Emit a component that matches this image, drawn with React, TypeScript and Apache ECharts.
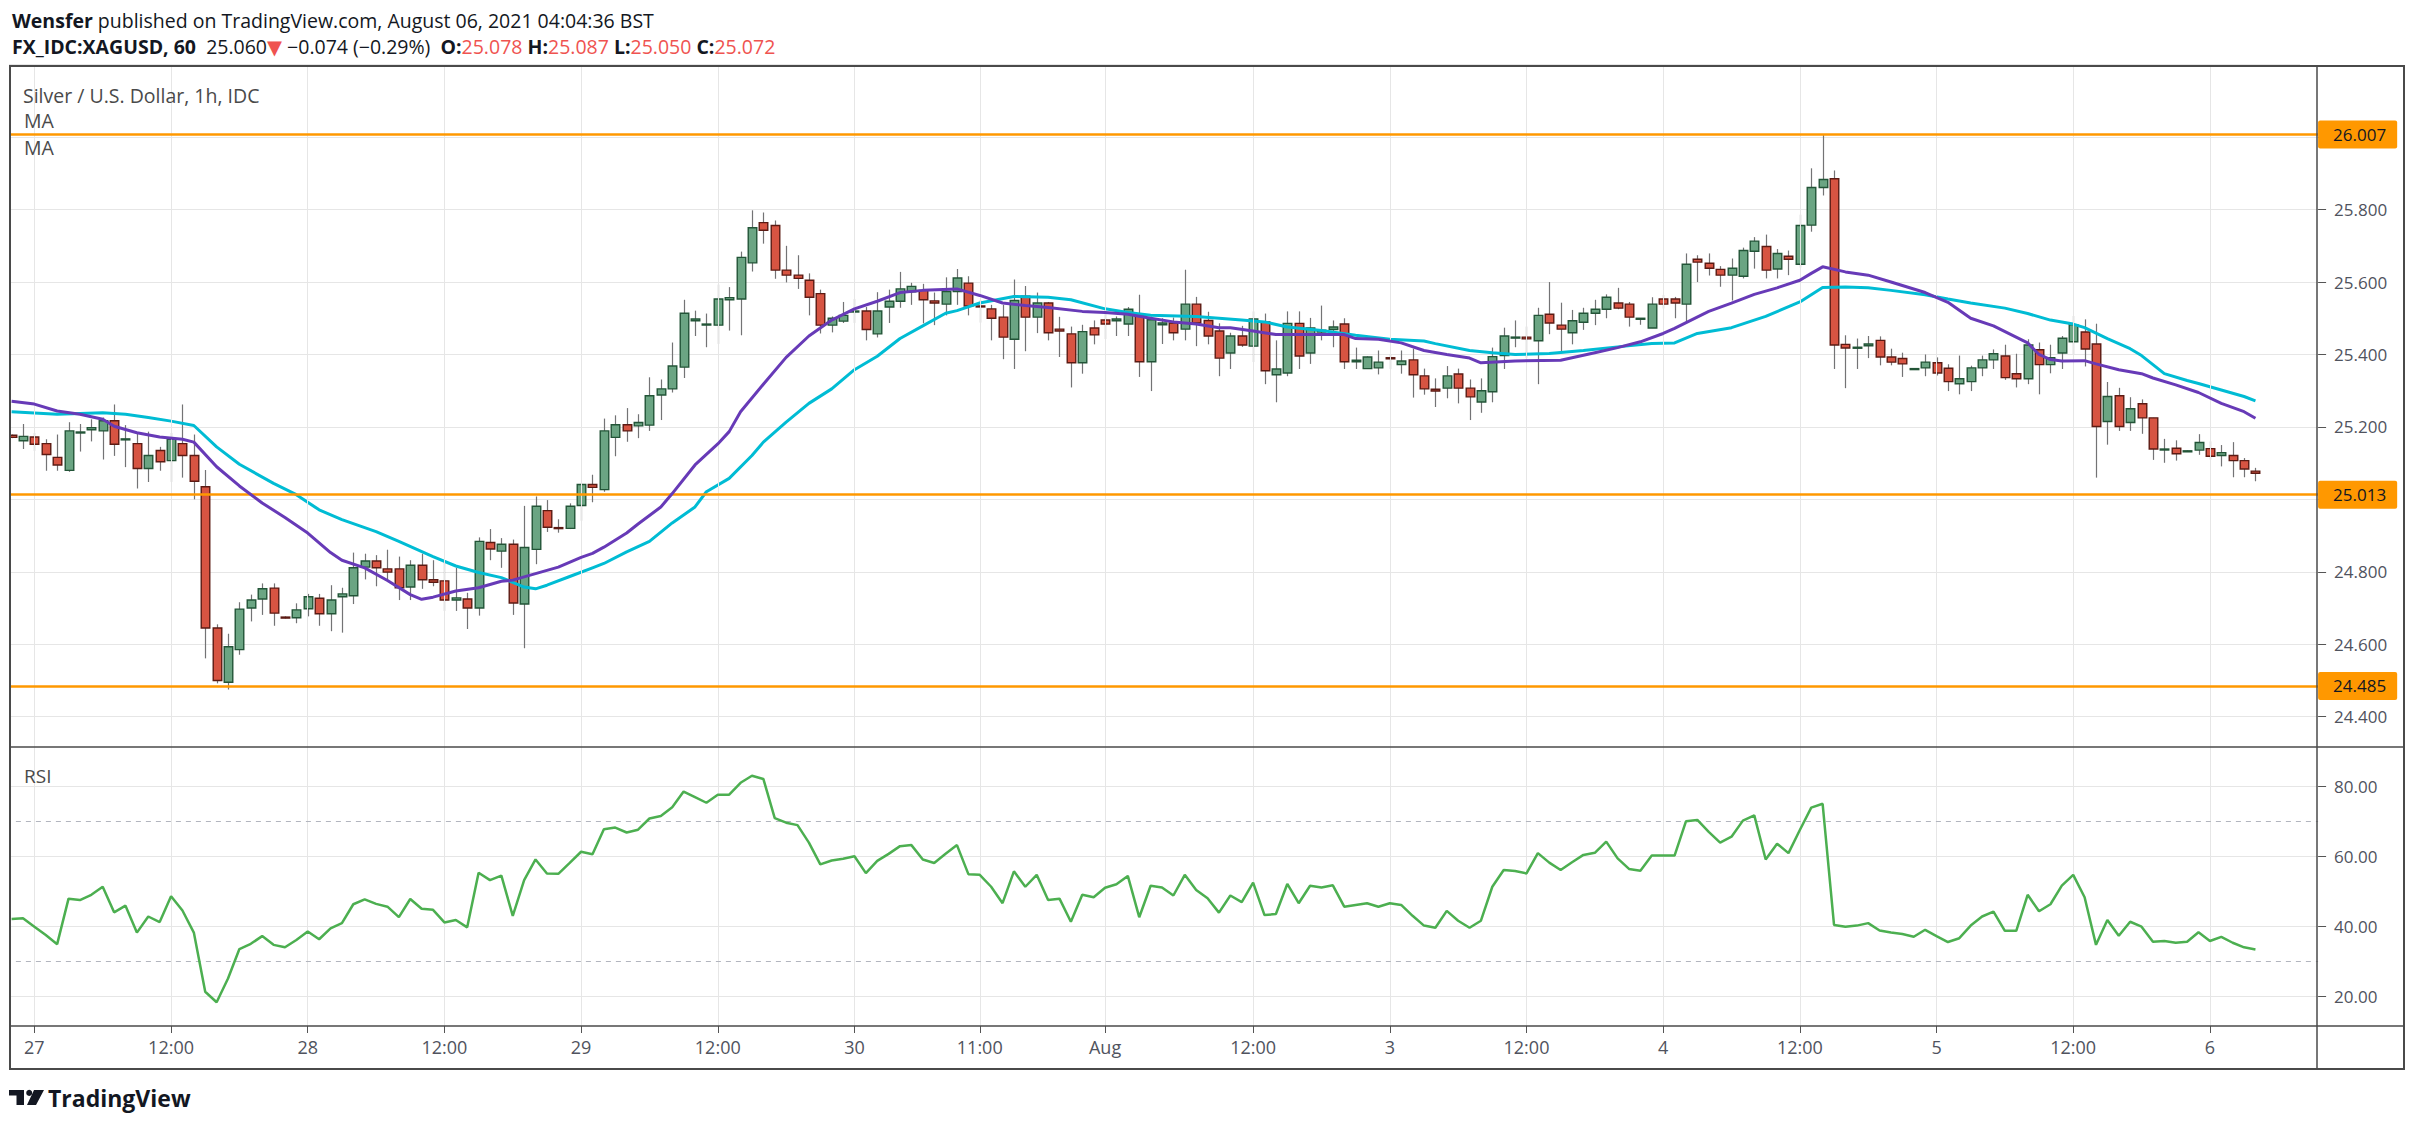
import React, { useEffect, useRef } from 'react';
import * as echarts from 'echarts';

const FONT = "'Open Sans', 'DejaVu Sans', sans-serif";

// x-axis tick labels (candle index where each label sits)
const tickIdx = [2, 14, 26, 38, 50, 62, 74, 85, 96, 109, 121, 133, 145, 157, 169, 181, 193];
const tickLabels = ['27', '12:00', '28', '12:00', '29', '12:00', '30', '11:00', 'Aug', '12:00', '3', '12:00', '4', '12:00', '5', '12:00', '6'];

const openVals = [
  25.177, 25.162, 25.172, 25.154, 25.116, 25.080, 25.184, 25.192, 25.189, 25.217,
  25.165, 25.154, 25.085, 25.135, 25.107, 25.154, 25.121, 25.035, 24.645, 24.495,
  24.585, 24.700, 24.725, 24.755, 24.675, 24.673, 24.698, 24.727, 24.684, 24.731,
  24.734, 24.813, 24.830, 24.808, 24.808, 24.758, 24.818, 24.778, 24.775, 24.722,
  24.725, 24.700, 24.881, 24.857, 24.876, 24.711, 24.862, 24.969, 24.922, 24.920,
  24.983, 25.041, 25.027, 25.171, 25.206, 25.203, 25.205, 25.288, 25.305, 25.365,
  25.493, 25.482, 25.481, 25.551, 25.553, 25.653, 25.764, 25.756, 25.633, 25.619,
  25.605, 25.568, 25.481, 25.492, 25.518, 25.520, 25.457, 25.531, 25.547, 25.573,
  25.577, 25.548, 25.539, 25.574, 25.597, 25.534, 25.526, 25.503, 25.442, 25.561,
  25.503, 25.542, 25.470, 25.457, 25.377, 25.473, 25.495, 25.493, 25.484, 25.511,
  25.380, 25.482, 25.487, 25.470, 25.539, 25.494, 25.465, 25.404, 25.451, 25.423,
  25.490, 25.344, 25.349, 25.486, 25.404, 25.462, 25.469, 25.484, 25.380, 25.361,
  25.363, 25.391, 25.372, 25.385, 25.341, 25.304, 25.307, 25.346, 25.307, 25.269,
  25.297, 25.397, 25.446, 25.448, 25.438, 25.511, 25.481, 25.460, 25.489, 25.514,
  25.525, 25.542, 25.539, 25.499, 25.473, 25.553, 25.553, 25.539, 25.663, 25.652,
  25.635, 25.619, 25.616, 25.685, 25.698, 25.636, 25.671, 25.649, 25.757, 25.861,
  25.885, 25.428, 25.418, 25.424, 25.439, 25.393, 25.389, 25.359, 25.363, 25.377,
  25.362, 25.319, 25.325, 25.363, 25.385, 25.396, 25.347, 25.333, 25.413, 25.372,
  25.404, 25.435, 25.462, 25.429, 25.215, 25.286, 25.212, 25.264, 25.225, 25.137,
  25.141, 25.132, 25.136, 25.140, 25.121, 25.121, 25.107, 25.078,
];
const highVals = [
  25.179, 25.208, 25.184, 25.166, 25.179, 25.213, 25.208, 25.221, 25.226, 25.262,
  25.205, 25.181, 25.187, 25.145, 25.184, 25.262, 25.179, 25.081, 24.655, 24.629,
  24.716, 24.737, 24.768, 24.768, 24.677, 24.713, 24.739, 24.739, 24.763, 24.756,
  24.853, 24.850, 24.846, 24.861, 24.842, 24.832, 24.850, 24.832, 24.832, 24.811,
  24.742, 24.895, 24.918, 24.893, 24.889, 24.982, 25.008, 24.998, 24.945, 24.989,
  25.044, 25.068, 25.223, 25.232, 25.252, 25.235, 25.337, 25.331, 25.433, 25.551,
  25.521, 25.513, 25.593, 25.586, 25.684, 25.798, 25.792, 25.770, 25.700, 25.674,
  25.624, 25.579, 25.505, 25.545, 25.553, 25.531, 25.572, 25.579, 25.628, 25.598,
  25.595, 25.571, 25.613, 25.636, 25.616, 25.551, 25.537, 25.537, 25.607, 25.589,
  25.571, 25.545, 25.504, 25.477, 25.482, 25.494, 25.522, 25.505, 25.531, 25.565,
  25.505, 25.500, 25.502, 25.634, 25.559, 25.518, 25.486, 25.460, 25.479, 25.519,
  25.513, 25.439, 25.519, 25.519, 25.501, 25.535, 25.494, 25.500, 25.419, 25.395,
  25.411, 25.400, 25.411, 25.416, 25.361, 25.334, 25.368, 25.361, 25.331, 25.334,
  25.419, 25.474, 25.494, 25.477, 25.529, 25.600, 25.543, 25.523, 25.529, 25.551,
  25.566, 25.584, 25.545, 25.500, 25.558, 25.565, 25.559, 25.679, 25.674, 25.679,
  25.644, 25.665, 25.695, 25.724, 25.731, 25.691, 25.687, 25.786, 25.914, 26.007,
  25.908, 25.453, 25.444, 25.451, 25.450, 25.416, 25.405, 25.362, 25.400, 25.392,
  25.373, 25.397, 25.369, 25.397, 25.414, 25.427, 25.402, 25.442, 25.433, 25.427,
  25.451, 25.507, 25.497, 25.485, 25.324, 25.308, 25.282, 25.276, 25.225, 25.167,
  25.163, 25.135, 25.180, 25.160, 25.150, 25.158, 25.114, 25.087,
];
const lowVals = [
  25.169, 25.139, 25.134, 25.079, 25.079, 25.076, 25.132, 25.160, 25.110, 25.120,
  25.089, 25.030, 25.048, 25.079, 25.048, 25.060, 25.000, 24.561, 24.492, 24.475,
  24.571, 24.663, 24.681, 24.651, 24.671, 24.658, 24.677, 24.651, 24.636, 24.632,
  24.711, 24.779, 24.760, 24.779, 24.722, 24.722, 24.753, 24.760, 24.692, 24.692,
  24.642, 24.679, 24.832, 24.811, 24.681, 24.589, 24.821, 24.910, 24.908, 24.918,
  24.941, 24.992, 25.021, 25.119, 25.159, 25.169, 25.189, 25.219, 25.295, 25.335,
  25.451, 25.420, 25.429, 25.466, 25.453, 25.629, 25.706, 25.609, 25.599, 25.581,
  25.508, 25.458, 25.461, 25.487, 25.487, 25.439, 25.447, 25.487, 25.529, 25.537,
  25.486, 25.481, 25.508, 25.537, 25.508, 25.488, 25.439, 25.387, 25.360, 25.409,
  25.459, 25.439, 25.393, 25.309, 25.347, 25.428, 25.442, 25.451, 25.451, 25.338,
  25.299, 25.429, 25.439, 25.439, 25.423, 25.428, 25.340, 25.360, 25.421, 25.379,
  25.318, 25.268, 25.340, 25.360, 25.374, 25.439, 25.420, 25.360, 25.360, 25.360,
  25.345, 25.360, 25.347, 25.281, 25.289, 25.255, 25.279, 25.265, 25.219, 25.239,
  25.268, 25.360, 25.420, 25.390, 25.318, 25.456, 25.407, 25.428, 25.468, 25.481,
  25.500, 25.525, 25.477, 25.482, 25.473, 25.527, 25.500, 25.487, 25.600, 25.618,
  25.587, 25.549, 25.610, 25.637, 25.610, 25.610, 25.619, 25.640, 25.739, 25.839,
  25.360, 25.307, 25.360, 25.390, 25.370, 25.370, 25.338, 25.358, 25.340, 25.342,
  25.299, 25.290, 25.299, 25.340, 25.360, 25.330, 25.309, 25.318, 25.290, 25.348,
  25.360, 25.401, 25.367, 25.060, 25.151, 25.189, 25.189, 25.181, 25.109, 25.101,
  25.107, 25.131, 25.123, 25.110, 25.091, 25.061, 25.061, 25.050,
];
const closeVals = [
  25.171, 25.174, 25.152, 25.124, 25.095, 25.189, 25.186, 25.198, 25.217, 25.152,
  25.167, 25.085, 25.121, 25.104, 25.166, 25.121, 25.050, 24.645, 24.500, 24.593,
  24.697, 24.722, 24.753, 24.686, 24.673, 24.695, 24.731, 24.684, 24.722, 24.739,
  24.811, 24.830, 24.811, 24.799, 24.756, 24.818, 24.778, 24.771, 24.722, 24.728,
  24.700, 24.884, 24.863, 24.876, 24.714, 24.867, 24.981, 24.923, 24.920, 24.981,
  25.041, 25.033, 25.189, 25.206, 25.189, 25.212, 25.286, 25.305, 25.368, 25.514,
  25.498, 25.484, 25.553, 25.557, 25.668, 25.750, 25.743, 25.633, 25.619, 25.610,
  25.558, 25.481, 25.500, 25.508, 25.520, 25.469, 25.520, 25.547, 25.581, 25.588,
  25.551, 25.542, 25.574, 25.611, 25.534, 25.532, 25.500, 25.448, 25.549, 25.503,
  25.542, 25.460, 25.465, 25.377, 25.463, 25.454, 25.484, 25.498, 25.525, 25.380,
  25.496, 25.487, 25.460, 25.539, 25.487, 25.451, 25.390, 25.451, 25.426, 25.498,
  25.355, 25.360, 25.486, 25.396, 25.473, 25.467, 25.476, 25.380, 25.384, 25.393,
  25.379, 25.388, 25.382, 25.344, 25.305, 25.299, 25.341, 25.307, 25.283, 25.300,
  25.394, 25.451, 25.448, 25.443, 25.508, 25.487, 25.470, 25.493, 25.514, 25.525,
  25.558, 25.528, 25.503, 25.500, 25.539, 25.539, 25.542, 25.649, 25.655, 25.638,
  25.619, 25.638, 25.687, 25.713, 25.633, 25.679, 25.663, 25.756, 25.861, 25.883,
  25.426, 25.418, 25.420, 25.429, 25.393, 25.379, 25.374, 25.361, 25.379, 25.349,
  25.325, 25.333, 25.363, 25.385, 25.402, 25.336, 25.333, 25.426, 25.372, 25.391,
  25.445, 25.482, 25.415, 25.201, 25.284, 25.201, 25.250, 25.225, 25.139, 25.139,
  25.126, 25.134, 25.157, 25.119, 25.129, 25.107, 25.084, 25.072,
];

// moving averages: [candle index, value]
const maFast = [
  [0, 25.271], [2, 25.263], [4, 25.244], [6, 25.235], [8, 25.221], [9, 25.202], [11, 25.184], [13, 25.172],
  [15, 25.166], [16, 25.158], [18, 25.090], [20, 25.037], [22, 24.990], [24, 24.950], [26, 24.907], [28, 24.853],
  [29, 24.832], [31, 24.811], [33, 24.776], [35, 24.737], [36, 24.724], [37, 24.730], [39, 24.747], [41, 24.756],
  [43, 24.774], [44, 24.777], [46, 24.795], [48, 24.813], [50, 24.840], [51, 24.851], [52, 24.868], [54, 24.907],
  [55, 24.932], [57, 24.979], [58, 25.016], [60, 25.095], [62, 25.153], [63, 25.187], [64, 25.242], [66, 25.318],
  [68, 25.392], [70, 25.451], [72, 25.495], [74, 25.526], [76, 25.547], [78, 25.571], [80, 25.577], [83, 25.581],
  [85, 25.563], [87, 25.542], [89, 25.535], [91, 25.530], [94, 25.519], [96, 25.516], [98, 25.511], [100, 25.500],
  [102, 25.490], [104, 25.484], [106, 25.474], [107, 25.474], [109, 25.465], [111, 25.455], [114, 25.455], [117, 25.455],
  [118, 25.444], [120, 25.442], [122, 25.432], [124, 25.411], [126, 25.400], [128, 25.390], [129, 25.377], [132, 25.382],
  [136, 25.384], [139, 25.405], [141, 25.419], [143, 25.435], [145, 25.458], [146, 25.472], [149, 25.519], [151, 25.542],
  [153, 25.566], [155, 25.584], [157, 25.605], [158, 25.624], [159, 25.642], [161, 25.628], [163, 25.619], [165, 25.600],
  [168, 25.571], [170, 25.544], [172, 25.500], [174, 25.479], [177, 25.432], [178, 25.400], [179, 25.386], [180, 25.382],
  [182, 25.383], [183, 25.374], [185, 25.358], [187, 25.347], [188, 25.335], [190, 25.316], [192, 25.295], [194, 25.265],
  [196, 25.242], [197, 25.224],
];
const maSlow = [
  [0, 25.242], [4, 25.235], [8, 25.239], [10, 25.235], [12, 25.226], [14, 25.216], [16, 25.204], [18, 25.145],
  [20, 25.097], [23, 25.044], [25, 25.013], [27, 24.971], [29, 24.944], [32, 24.911], [34, 24.884], [37, 24.842],
  [39, 24.816], [41, 24.798], [43, 24.784], [45, 24.758], [46, 24.753], [47, 24.763], [49, 24.787], [51, 24.811],
  [52, 24.823], [54, 24.855], [56, 24.884], [58, 24.935], [60, 24.979], [61, 25.021], [63, 25.058], [65, 25.121],
  [66, 25.158], [68, 25.213], [70, 25.265], [72, 25.305], [74, 25.358], [76, 25.395], [78, 25.444], [80, 25.479],
  [82, 25.514], [83, 25.521], [85, 25.542], [88, 25.560], [91, 25.558], [93, 25.551], [96, 25.526], [98, 25.516],
  [100, 25.508], [104, 25.505], [108, 25.495], [110, 25.490], [112, 25.476], [115, 25.466], [118, 25.453], [121, 25.442],
  [124, 25.437], [125, 25.430], [128, 25.411], [130, 25.405], [132, 25.400], [135, 25.403], [138, 25.411], [141, 25.421],
  [144, 25.430], [146, 25.432], [148, 25.458], [151, 25.474], [154, 25.505], [157, 25.545], [159, 25.585], [161, 25.586],
  [163, 25.584], [165, 25.577], [168, 25.565], [170, 25.553], [172, 25.542], [175, 25.528], [177, 25.513], [179, 25.495],
  [181, 25.484], [182, 25.474], [184, 25.444], [186, 25.416], [187, 25.397], [189, 25.347], [191, 25.328], [192, 25.320],
  [194, 25.302], [196, 25.284], [197, 25.272],
];

const rsiVals = [
  42.1, 42.3, 39.9, 37.5, 34.9, 47.9, 47.5, 49.0, 51.3, 44.0,
  45.9, 38.2, 42.8, 41.2, 48.6, 44.5, 38.2, 21.3, 18.3, 25.1,
  33.5, 35.0, 37.2, 34.7, 34.0, 36.1, 38.5, 36.3, 39.4, 40.9,
  46.3, 47.7, 46.4, 45.6, 42.6, 47.8, 45.0, 44.7, 41.1, 41.8,
  39.7, 55.3, 53.2, 54.5, 43.0, 53.2, 59.1, 55.1, 55.0, 58.1,
  61.3, 60.6, 67.7, 68.2, 66.8, 67.6, 70.8, 71.5, 74.0, 78.5,
  76.9, 75.3, 77.6, 77.6, 81.0, 83.0, 82.1, 70.9, 69.6, 68.9,
  63.9, 57.7, 58.8, 59.3, 60.0, 55.2, 58.7, 60.7, 62.9, 63.2,
  59.1, 58.1, 60.7, 63.2, 54.9, 54.7, 51.3, 46.6, 55.7, 51.3,
  54.7, 47.5, 47.9, 41.3, 49.0, 48.3, 51.0, 52.0, 54.4, 42.6,
  51.6, 51.1, 48.8, 54.7, 50.4, 48.0, 43.9, 48.8, 46.9, 52.5,
  43.2, 43.5, 52.1, 46.6, 51.6, 51.1, 51.7, 45.6, 46.1, 46.6,
  45.6, 46.6, 46.1, 43.0, 40.2, 39.6, 44.4, 41.6, 39.6, 41.6,
  51.3, 56.1, 55.8, 55.1, 60.9, 58.2, 56.1, 58.3, 60.4, 61.0,
  64.2, 59.4, 56.4, 55.9, 60.2, 60.2, 60.2, 70.0, 70.4, 67.0,
  63.9, 65.6, 70.2, 71.7, 59.1, 63.6, 60.9, 67.5, 73.9, 75.0,
  40.4, 39.9, 40.2, 40.9, 38.8, 38.2, 37.8, 37.0, 39.0, 37.2,
  35.5, 36.6, 40.2, 42.8, 44.2, 38.7, 38.7, 49.0, 44.3, 46.3,
  51.6, 54.7, 48.3, 34.7, 41.8, 37.3, 41.3, 39.9, 35.6, 35.8,
  35.3, 35.6, 38.3, 35.8, 37.0, 35.3, 34.0, 33.4,
];

const levels = [26.007, 25.013, 24.485];
const rsiBands = [70, 30];

const PAD = 5;
const GREEN = '#6ba583';
const GREEN_B = '#225437';
const RED = '#d75442';
const RED_B = '#5b1a13';
const WICK = '#737375';
const GRID = '#e6e6e6';
const AXIS_TXT = '#50535e';
const FRAME = '#4a4a4a';

function buildOption() {
  const n = openVals.length;
  const cats = Array.from({ length: n + PAD }, (_, i) => {
    const k = tickIdx.indexOf(i);
    return k >= 0 ? tickLabels[k] : '';
  });
  const tickSet = new Set(tickIdx);
  const candles = openVals.map((o, i) => [i, o, closeVals[i], lowVals[i], highVals[i]]);

  const GL = 5.9;
  const GW = 2312.2;

  const renderCandle = (params: any, api: any) => {
    const x = api.value(0);
    const o = api.value(1);
    const c = api.value(2);
    const l = api.value(3);
    const h = api.value(4);
    const po = api.coord([x, o]);
    const pc = api.coord([x, c]);
    const pl = api.coord([x, l]);
    const ph = api.coord([x, h]);
    const band = api.size([1, 0])[0];
    const bw = band * 0.75;
    const up = c >= o;
    const top = Math.min(po[1], pc[1]);
    let hh = Math.abs(po[1] - pc[1]);
    if (hh < 1) hh = 1;
    const cx = Math.round(po[0]) + 0.5;
    return {
      type: 'group',
      children: [
        { type: 'line', shape: { x1: cx, y1: ph[1], x2: cx, y2: pl[1] }, style: { stroke: WICK, lineWidth: 1.2 } },
        {
          type: 'rect',
          shape: { x: cx - bw / 2, y: top, width: bw, height: hh },
          style: { fill: up ? GREEN : RED, stroke: up ? GREEN_B : RED_B, lineWidth: 1.4 },
        },
      ],
    };
  };

  const txt = (x: number, y: number, text: string, extra: any = {}) => ({
    type: 'text',
    x,
    y,
    z: 120,
    style: {
      text,
      fontFamily: FONT,
      fontSize: 19.5,
      fill: '#131722',
      verticalAlign: 'middle',
      ...extra,
    },
  });

  const HF = 19.5;
  const richHeader = {
    b: { fontWeight: 'bold', fontFamily: FONT, fontSize: HF, fill: '#131722' },
    n: { fontFamily: FONT, fontSize: HF, fill: '#131722' },
    r: { fontFamily: FONT, fontSize: HF, fill: '#ef5350' },
  };

  const LX = 9;
  const LY = 1090;
  const INK = '#131722';

  return {
    animation: false,
    backgroundColor: '#ffffff',
    grid: [
      { left: GL, width: GW, top: 66, height: 960 },
      { left: GL, width: GW, top: 64.72, height: 651.96 },
      { left: GL, width: GW, top: 786.3, height: 210 },
    ],
    xAxis: [
      { type: 'category', gridIndex: 0, data: cats, show: false },
      { type: 'category', gridIndex: 1, data: cats, show: false },
      {
        type: 'category',
        gridIndex: 2,
        data: cats,
        offset: 29.7,
        axisLine: { show: false },
        axisTick: {
          show: true,
          alignWithLabel: true,
          interval: (i: number) => tickSet.has(i),
          length: 7,
          lineStyle: { color: '#555' },
        },
        axisLabel: {
          interval: (i: number) => tickSet.has(i),
          margin: 12,
          color: AXIS_TXT,
          fontFamily: FONT,
          fontSize: 18,
        },
        splitLine: { show: false },
      },
    ],
    yAxis: [
      { type: 'value', gridIndex: 0, min: 0, max: 1, show: false },
      {
        type: 'value',
        gridIndex: 1,
        position: 'right',
        min: 24.4,
        max: 26.2,
        interval: 0.2,
        axisLine: { show: false },
        axisTick: { show: true, length: 8, lineStyle: { color: '#555' } },
        axisLabel: {
          margin: 16,
          color: AXIS_TXT,
          fontFamily: FONT,
          fontSize: 17,
          formatter: (v: number) => (v > 25.95 ? '' : v.toFixed(3)),
        },
        splitLine: { show: true, lineStyle: { color: GRID, width: 1 } },
      },
      {
        type: 'value',
        gridIndex: 2,
        position: 'right',
        min: 20,
        max: 80,
        interval: 20,
        axisLine: { show: false },
        axisTick: { show: true, length: 8, lineStyle: { color: '#555' } },
        axisLabel: {
          margin: 16,
          color: AXIS_TXT,
          fontFamily: FONT,
          fontSize: 17,
          formatter: (v: number) => v.toFixed(2),
        },
        splitLine: { show: true, lineStyle: { color: GRID, width: 1 } },
      },
    ],
    series: [
      {
        type: 'line',
        xAxisIndex: 0,
        yAxisIndex: 0,
        data: [[0, -1]],
        symbol: 'none',
        silent: true,
        lineStyle: { opacity: 0 },
        z: 1,
        markLine: {
          silent: true,
          symbol: 'none',
          label: { show: false },
          lineStyle: { color: GRID, width: 1, type: 'solid' },
          emphasis: { disabled: true },
          data: tickIdx.map((i) => ({ xAxis: i })),
        },
      },
      {
        type: 'custom',
        xAxisIndex: 1,
        yAxisIndex: 1,
        data: candles,
        encode: { x: 0, y: [1, 2, 3, 4] },
        renderItem: renderCandle,
        silent: true,
        z: 3,
      },
      {
        type: 'line',
        xAxisIndex: 1,
        yAxisIndex: 1,
        data: maSlow,
        symbol: 'none',
        silent: true,
        lineStyle: { color: '#00bcd4', width: 3 },
        z: 4,
      },
      {
        type: 'line',
        xAxisIndex: 1,
        yAxisIndex: 1,
        data: maFast,
        symbol: 'none',
        silent: true,
        lineStyle: { color: '#673ab7', width: 3 },
        z: 5,
        markLine: {
          silent: true,
          symbol: 'none',
          precision: 3,
          emphasis: { disabled: true },
          lineStyle: { color: '#ff9800', width: 2.5, type: 'solid' },
          label: {
            show: true,
            position: 'end',
            distance: 0,
            formatter: (p: any) => Number(p.value).toFixed(3),
            backgroundColor: '#ff9800',
            color: '#131722',
            fontFamily: FONT,
            fontSize: 17,
            padding: [6, 11, 5, 15],
            borderRadius: 2,
          },
          data: levels.map((v) => ({ yAxis: v })),
        },
      },
      {
        type: 'line',
        xAxisIndex: 2,
        yAxisIndex: 2,
        data: rsiVals,
        symbol: 'none',
        silent: true,
        clip: false,
        lineStyle: { color: '#4caf50', width: 2.5 },
        z: 5,
        markLine: {
          silent: true,
          symbol: 'none',
          emphasis: { disabled: true },
          label: { show: false },
          lineStyle: { color: '#b2b5be', width: 1, type: [5, 5] },
          data: rsiBands.map((v) => ({ yAxis: v })),
        },
      },
    ],
    graphic: [
      { type: 'rect', z: 90, shape: { x: 0, y: 60, width: 9, height: 1015 }, style: { fill: '#ffffff' } },
      { type: 'rect', z: 90, shape: { x: 2300, y: 55, width: 115, height: 10 }, style: { fill: '#ffffff' } },
      { type: 'rect', z: 100, shape: { x: 10, y: 66, width: 2394, height: 1003 }, style: { fill: 'none', stroke: FRAME, lineWidth: 2 } },
      { type: 'line', z: 100, shape: { x1: 2317, y1: 66, x2: 2317, y2: 1069 }, style: { stroke: FRAME, lineWidth: 1.5 } },
      { type: 'line', z: 100, shape: { x1: 10, y1: 747, x2: 2404, y2: 747 }, style: { stroke: FRAME, lineWidth: 1.5 } },
      { type: 'line', z: 100, shape: { x1: 10, y1: 1026, x2: 2404, y2: 1026 }, style: { stroke: FRAME, lineWidth: 1.5 } },
      txt(12, 20, '{b|Wensfer}{n| published on TradingView.com, August 06, 2021 04:04:36 BST}', { rich: richHeader }),
      txt(
        12,
        46,
        '{b|FX_IDC:XAGUSD, 60}{n|  25.060}{r|▼}{n| −0.074 (−0.29%)  }{b|O:}{r|25.078}{n| }{b|H:}{r|25.087}{n| }{b|L:}{r|25.050}{n| }{b|C:}{r|25.072}',
        { rich: richHeader }
      ),
      txt(23, 95, 'Silver / U.S. Dollar, 1h, IDC', { fill: '#4a4a4a', fontSize: 19.5 }),
      txt(24, 120, 'MA', { fill: '#4a4a4a', fontSize: 19.5 }),
      txt(24, 147, 'MA', { fill: '#4a4a4a', fontSize: 19.5 }),
      txt(24, 776, 'RSI', { fill: '#4a4a4a', fontSize: 19 }),
      {
        type: 'group',
        x: LX,
        y: LY,
        z: 120,
        children: [
          { type: 'rect', shape: { x: 0, y: 0, width: 15, height: 5.5 }, style: { fill: INK } },
          { type: 'rect', shape: { x: 7.5, y: 0, width: 7.5, height: 15 }, style: { fill: INK } },
          { type: 'circle', shape: { cx: 20.2, cy: 2.9, r: 3 }, style: { fill: INK } },
          { type: 'polygon', shape: { points: [[25, 0], [35, 0], [27, 15], [18, 15]] }, style: { fill: INK } },
        ],
      },
      txt(48, 1098, 'TradingView', { fontWeight: 'bold', fontSize: 23, fill: INK }),
    ],
  };
}

export default function App() {
  const ref = useRef<HTMLDivElement>(null);
  useEffect(() => {
    const el = ref.current;
    if (!el) return;
    const chart = echarts.init(el, undefined, { renderer: 'svg', width: 2415, height: 1127 });
    chart.setOption(buildOption() as any);
    return () => chart.dispose();
  }, []);
  return (
    <div
      ref={ref}
      style={{ position: 'absolute', left: 0, top: 0, width: 2415, height: 1127, background: '#ffffff' }}
    />
  );
}
